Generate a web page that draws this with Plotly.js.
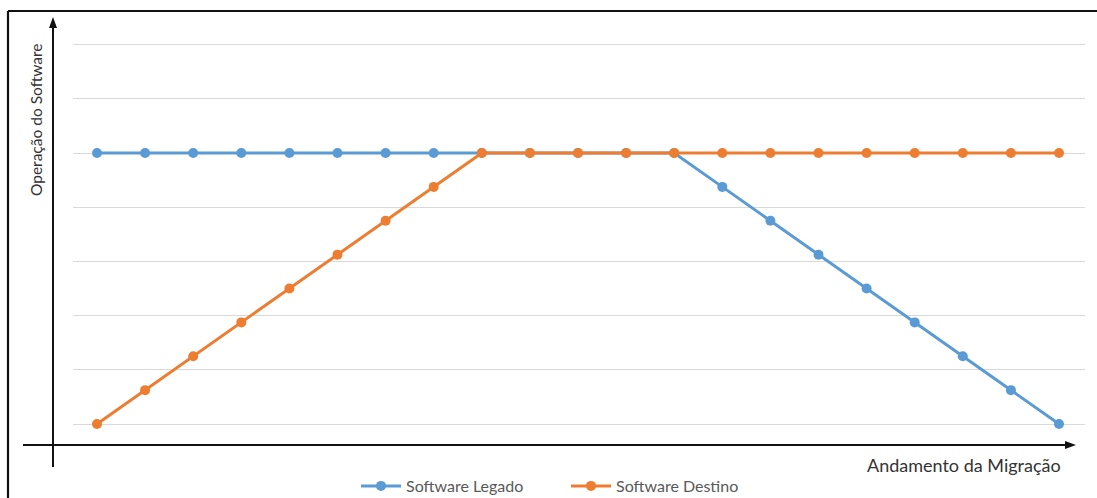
<!DOCTYPE html>
<html>
<head>
<meta charset="utf-8">
<script src="https://cdn.plot.ly/plotly-3.0.1.min.js"></script>
<style>html,body{margin:0;padding:0;background:#fff;}#chart{width:1097px;height:498px;}</style>
</head>
<body>
<div id="chart"></div>
<script>
// Data
const steps = [0,1,2,3,4,5,6,7,8,9,10,11,12,13,14,15,16,17,18,19,20];
const legado = [5,5,5,5,5,5,5,5,5,5,5,5,5,4.375,3.75,3.125,2.5,1.875,1.25,0.625,0];
const destino = [0,0.625,1.25,1.875,2.5,3.125,3.75,4.375,5,5,5,5,5,5,5,5,5,5,5,5,5];
const gridLevels = [0,1,2,3,4,5,6,7];
const seriesNames = ["Software Legado","Software Destino"];
const xTitle = "Andamento da Migração";
const yTitle = "Operação do Software";

const W = 1097, H = 498;
const M = {l:73, r:12, t:20, b:60};
const pw = W - M.l - M.r, ph = H - M.t - M.b;
// paper helpers (pixel -> paper fraction)
const px = v => (v - M.l) / pw;
const py = v => 1 - (v - M.t) / ph;

// axis ranges from pixel anchors
const x0px = 97, dxpx = 48.1;
const xr = [(M.l - x0px)/dxpx, (W - M.r - x0px)/dxpx];
const y0px = 424, dypx = 54.2;
const yr = [(y0px - (H - M.b))/dypx, (y0px - M.t)/dypx];

const font = "Lato, 'Open Sans', sans-serif";

const traces = [
  {x: steps, y: legado, name: seriesNames[0], type:'scatter', mode:'lines+markers',
   line:{color:'#5B9BD5', width:3}, marker:{color:'#5B9BD5', size:10}},
  {x: steps, y: destino, name: seriesNames[1], type:'scatter', mode:'lines+markers',
   line:{color:'#ED7D31', width:3}, marker:{color:'#ED7D31', size:10}}
];

const shapes = [
  // outer frame (top and left)
  {type:'line', xref:'paper', yref:'paper', x0:px(8), x1:px(1110), y0:py(11), y1:py(11), line:{color:'#111', width:2.2}},
  {type:'line', xref:'paper', yref:'paper', x0:px(8), x1:px(8), y0:py(11), y1:py(510), line:{color:'#111', width:2.2}},
  // y axis line
  {type:'line', xref:'paper', yref:'paper', x0:px(53), x1:px(53), y0:py(467), y1:py(26), line:{color:'#111', width:2}},
  // x axis line
  {type:'line', xref:'paper', yref:'paper', x0:px(23), x1:px(1068), y0:py(445), y1:py(445), line:{color:'#111', width:2}},
  // arrowheads
  {type:'path', xref:'paper', yref:'paper',
   path:`M ${px(53)} ${py(17)} L ${px(49)} ${py(28)} L ${px(57)} ${py(28)} Z`, fillcolor:'#111', line:{color:'#111', width:0}},
  {type:'path', xref:'paper', yref:'paper',
   path:`M ${px(1076)} ${py(445)} L ${px(1065)} ${py(441)} L ${px(1065)} ${py(449)} Z`, fillcolor:'#111', line:{color:'#111', width:0}}
];

const layout = {
  width: W, height: H,
  margin: M,
  paper_bgcolor:'#fff', plot_bgcolor:'#fff',
  showlegend: true,
  legend: {orientation:'h', x: 566/W, xanchor:'center', xref:'container',
           y: 1 - 469/H, yref:'container', yanchor:'top',
           font:{family:font, size:16, color:'#595959'}, itemwidth:40, entrywidth:155, entrywidthmode:'pixels'},
  xaxis: {range: xr, showgrid:false, zeroline:false, showline:false, showticklabels:false, ticks:'', fixedrange:true},
  yaxis: {range: yr, tickmode:'array', tickvals: gridLevels, showgrid:true, gridcolor:'#d9d9d9', gridwidth:1,
          zeroline:false, showline:false, showticklabels:false, ticks:'', fixedrange:true},
  shapes: shapes,
  annotations: [
    {text: yTitle, xref:'paper', yref:'paper', x: px(36), y: py(120), textangle:-90, showarrow:false,
     xanchor:'center', yanchor:'middle', font:{family:font, size:15.5, color:'#333'}},
    {text: xTitle, xref:'paper', yref:'paper', x: px(1063), y: py(465), showarrow:false,
     xanchor:'right', yanchor:'middle', font:{family:font, size:18, color:'#333'}}
  ]
};

Plotly.newPlot('chart', traces, layout, {displayModeBar:false, staticPlot:true});
</script>
</body>
</html>
